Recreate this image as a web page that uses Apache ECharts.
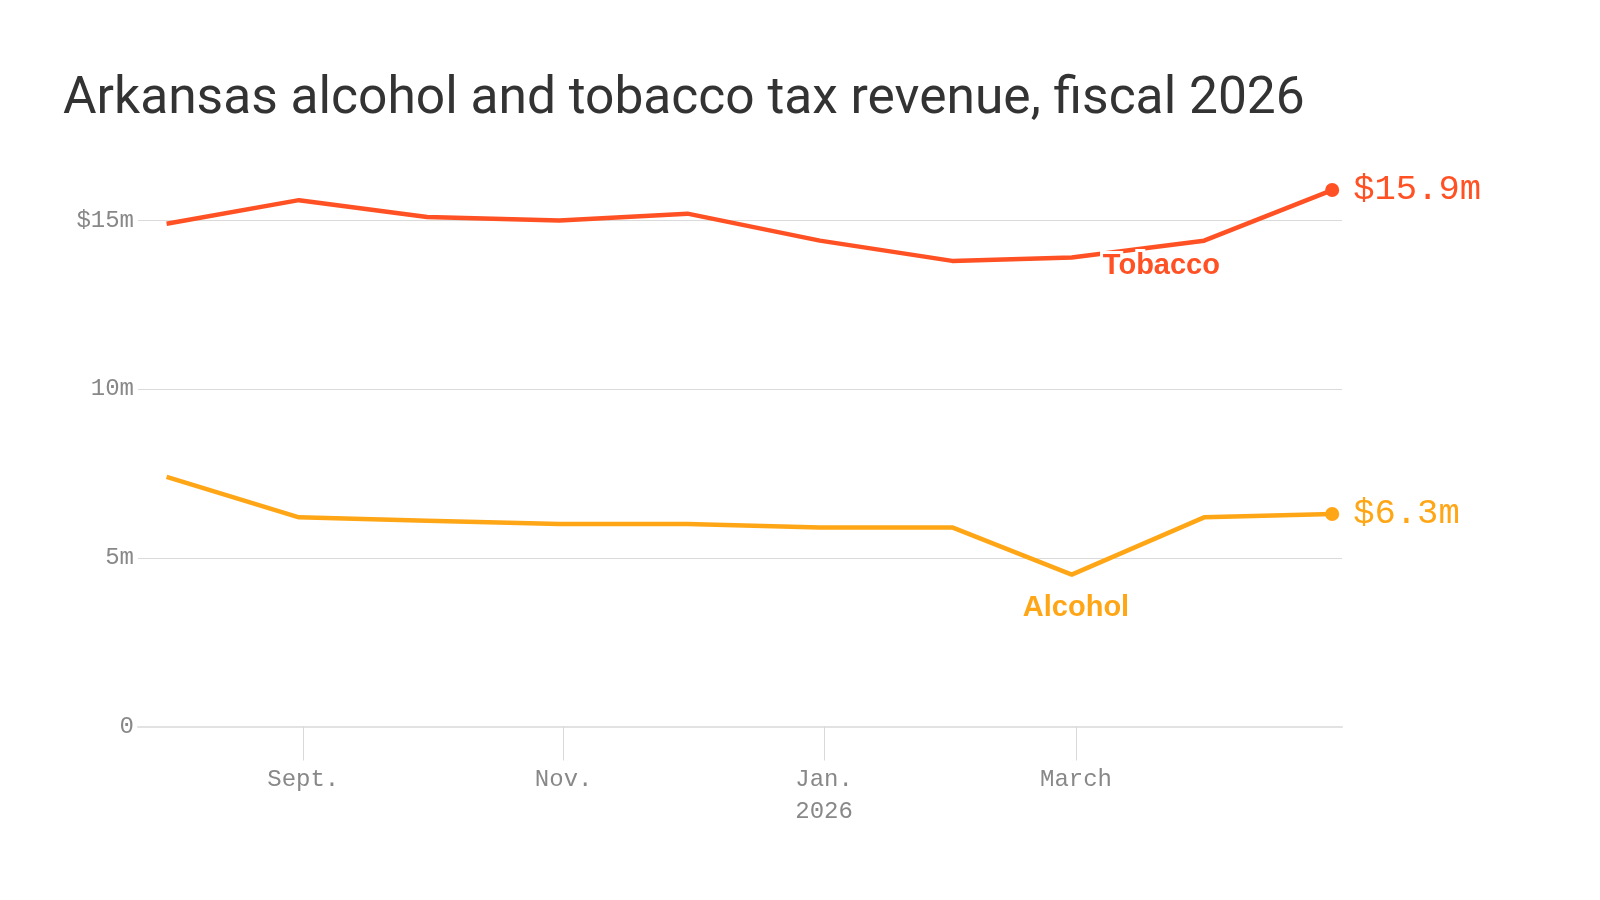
<!DOCTYPE html>
<html>
<head>
<meta charset="utf-8">
<title>Arkansas alcohol and tobacco tax revenue</title>
<script src="https://cdn.jsdelivr.net/npm/echarts@6/dist/echarts.min.js"></script>
<style>
  html, body { margin: 0; padding: 0; background: #fff; }
  #main { width: 1600px; height: 900px; }
</style>
</head>
<body>
<div id="main"></div>
<script>
// data (millions of dollars, plotted at month end)
var months = ['2025-07-31', '2025-08-31', '2025-09-30', '2025-10-31', '2025-11-30',
              '2025-12-31', '2026-01-31', '2026-02-28', '2026-03-31', '2026-04-30'];
var tobacco = [14.9, 15.6, 15.1, 15.0, 15.2, 14.4, 13.8, 13.9, 14.4, 15.9];
var alcohol = [7.4, 6.2, 6.1, 6.0, 6.0, 5.9, 5.9, 4.5, 6.2, 6.3];
var seriesNames = ['Tobacco', 'Alcohol'];

var xTickDates = ['2025-09-01', '2025-11-01', '2026-01-01', '2026-03-01'];
var xTickLabels = ['Sept.', 'Nov.', 'Jan.\n2026', 'March'];
var yTicks = [0, 5, 10, 15];
var yTickLabels = ['0', '5m', '10m', '$15m'];

var TOBACCO = '#ff5124';
var ALCOHOL = '#ffa616';
var MONO = '"Liberation Mono", "DejaVu Sans Mono", monospace';

// days since 1970, so the x axis is a plain value axis
function day(s) {
    var p = s.split('-');
    return Date.UTC(+p[0], +p[1] - 1, +p[2]) / 86400000;
}
var xTickValues = xTickDates.map(day);

function pairs(vals) {
    var out = [];
    for (var i = 0; i < months.length; i++) {
        out.push([day(months[i]), vals[i]]);
    }
    return out;
}

function lineSeries(name, vals, color, tag) {
    var last = vals.length - 1;
    return {
        name: name,
        type: 'line',
        data: pairs(vals),
        clip: false,
        symbol: 'circle',
        showSymbol: true,
        symbolSize: function (v, p) { return p.dataIndex === last ? 14 : 0; },
        lineStyle: { color: color, width: 4.5 },
        itemStyle: { color: color },
        endLabel: {
            show: true,
            distance: 21,
            color: color,
            fontFamily: MONO,
            fontSize: 35.5,
            formatter: function (p) { return '$' + p.value[1] + 'm'; }
        },
        markPoint: {
            symbol: 'circle',
            symbolSize: 1,
            itemStyle: { color: 'rgba(0,0,0,0)' },
            label: {
                show: true,
                position: 'inside',
                formatter: name,
                color: color,
                fontFamily: '"Liberation Sans", Arial, sans-serif',
                fontWeight: 'bold',
                fontSize: 29,
                textBorderColor: '#fff',
                textBorderWidth: 6
            },
            data: [{ coord: tag }]
        },
        z: 3
    };
}

var myChart = echarts.init(document.getElementById('main'), null, { renderer: 'canvas' });

var option = {
    animation: false,
    backgroundColor: '#fff',
    title: {
        text: 'Arkansas alcohol and tobacco tax revenue, fiscal 2026',
        left: 58,
        top: 69,
        textStyle: {
            fontFamily: 'Roboto, "Liberation Sans", sans-serif',
            fontWeight: 'normal',
            fontSize: 51.5,
            color: '#333'
        }
    },
    grid: {
        left: 138,
        right: 258,
        top: 220.4,
        bottom: 173.5,
        containLabel: false
    },
    xAxis: {
        type: 'value',
        min: day('2025-07-24') + 0.3,
        max: day('2026-05-02') + 0.3,
        axisLine: { show: true, onZero: false, lineStyle: { color: '#e2e2e2', width: 2 } },
        axisTick: {
            show: true,
            length: 34,
            customValues: xTickValues,
            lineStyle: { color: '#d9d9d9', width: 1 }
        },
        axisLabel: {
            customValues: xTickValues,
            margin: 37,
            color: '#888',
            fontFamily: MONO,
            fontSize: 24,
            lineHeight: 32,
            formatter: function (v) {
                var i = xTickValues.indexOf(v);
                return i >= 0 ? xTickLabels[i] : '';
            }
        },
        splitLine: { show: false }
    },
    yAxis: {
        type: 'value',
        min: 0,
        max: 15,
        interval: 5,
        axisLine: { show: false },
        axisTick: { show: false },
        axisLabel: {
            margin: 4,
            color: '#888',
            fontFamily: MONO,
            fontSize: 24,
            formatter: function (v) {
                var i = yTicks.indexOf(v);
                return i >= 0 ? yTickLabels[i] : '';
            }
        },
        splitLine: { lineStyle: { color: '#dadada', width: 1 } }
    },
    series: [
        lineSeries(seriesNames[0], tobacco, TOBACCO, [day('2026-03-21'), 13.64]),
        lineSeries(seriesNames[1], alcohol, ALCOHOL, [day('2026-03-01'), 3.52])
    ]
};

myChart.setOption(option);
</script>
</body>
</html>
